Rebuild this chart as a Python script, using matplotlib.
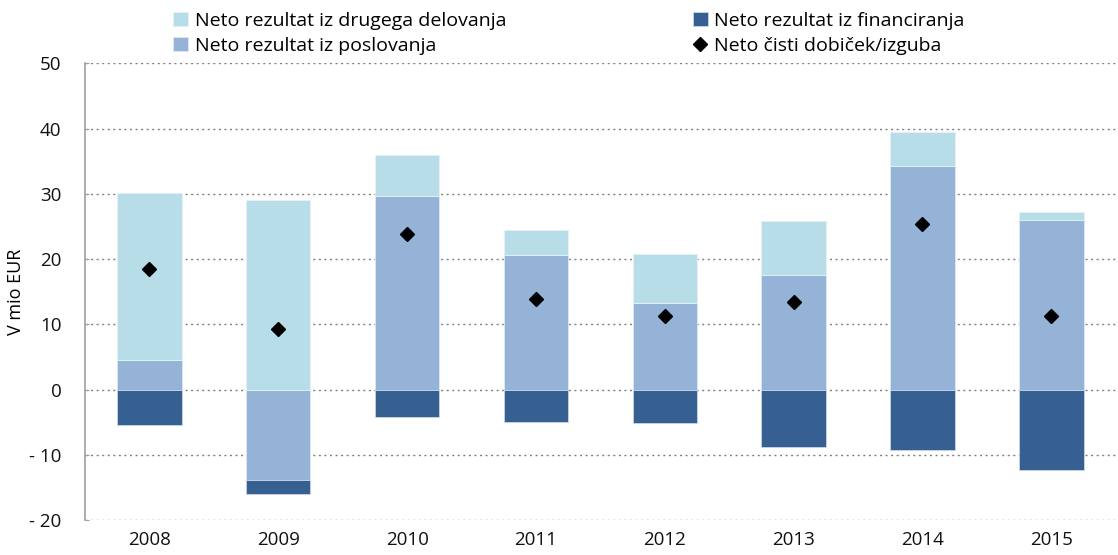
import numpy as np
import matplotlib
matplotlib.use("Agg")
import matplotlib.pyplot as plt

plt.rcParams['font.family'] = ['Open Sans', 'DejaVu Sans']

years = ['2008', '2009', '2010', '2011', '2012', '2013', '2014', '2015']
poslovanje = [4.5, -13.8, 29.6, 20.6, 13.3, 17.5, 34.3, 26.0]
drugo = [25.6, 29.1, 6.3, 3.9, 7.5, 8.3, 5.2, 1.2]
financiranje = [-5.4, -2.2, -4.2, -5.0, -5.1, -8.8, -9.3, -12.3]
neto = [18.4, 9.2, 23.9, 13.9, 11.3, 13.4, 25.4, 11.3]

c_drugo = '#B7DDE8'
c_posl = '#95B3D7'
c_fin = '#376092'


def stack_bottoms(series_list):
    # positive and negative values stack separately from zero
    pos = np.zeros(len(years))
    neg = np.zeros(len(years))
    out = []
    for s in series_list:
        s = np.array(s, dtype=float)
        b = np.where(s >= 0, pos, neg)
        out.append(b)
        pos = pos + np.where(s >= 0, s, 0)
        neg = neg + np.where(s < 0, s, 0)
    return out


fig = plt.figure(figsize=(11.18, 5.55), dpi=100)
ax = fig.add_axes([0.076, 0.063, 0.922, 0.823])

x = np.arange(len(years))
w = 0.5
b_posl, b_drugo, b_fin = stack_bottoms([poslovanje, drugo, financiranje])

ax.set_axisbelow(True)
h_posl = ax.bar(x, poslovanje, w, bottom=b_posl, color=c_posl, edgecolor='#DDE8F2', linewidth=0.6,
                label='Neto rezultat iz poslovanja')
h_drugo = ax.bar(x, drugo, w, bottom=b_drugo, color=c_drugo, edgecolor='#E4F2F6', linewidth=0.6,
                 label='Neto rezultat iz drugega delovanja')
h_fin = ax.bar(x, financiranje, w, bottom=b_fin, color=c_fin, edgecolor='#C9D6E6', linewidth=0.6,
               label='Neto rezultat iz financiranja')
h_neto, = ax.plot(x, neto, linestyle='none', marker='D', markersize=7, color='black',
                  label='Neto čisti dobiček/izguba')

ax.set_xlim(-0.5, len(years) - 0.5)
ax.set_ylim(-20, 50)
ax.set_yticks(range(-20, 51, 10))
ax.set_yticklabels([str(v) if v >= 0 else '- ' + str(-v) for v in range(-20, 51, 10)])
ax.set_xticks(x)
ax.set_xticklabels(years)
ax.grid(axis='y', linestyle=(0, (1.5, 2.5)), color='#808080', linewidth=1.0)
ax.tick_params(axis='both', labelsize=13.5, colors='#111111')
ax.tick_params(axis='x', length=0, pad=8)
ax.tick_params(axis='y', direction='in', length=3, color='#A0A0A0', pad=17)

for s in ['top', 'right', 'bottom']:
    ax.spines[s].set_visible(False)
ax.spines['left'].set_color('#A0A0A0')
ax.spines['left'].set_linewidth(1.2)

ax.set_ylabel('V mio EUR', fontsize=13, labelpad=3)

fig.legend([h_drugo, h_posl, h_fin, h_neto],
           ['Neto rezultat iz drugega delovanja', 'Neto rezultat iz poslovanja',
            'Neto rezultat iz financiranja', 'Neto čisti dobiček/izguba'],
           ncol=2, loc='upper left', bbox_to_anchor=(0.143, 1.003), frameon=False,
           fontsize=14, handlelength=0.75, handleheight=0.75, handletextpad=0.35,
           columnspacing=9.6, labelspacing=0.36, borderaxespad=0.3)

fig.savefig('out.png', dpi=100)
